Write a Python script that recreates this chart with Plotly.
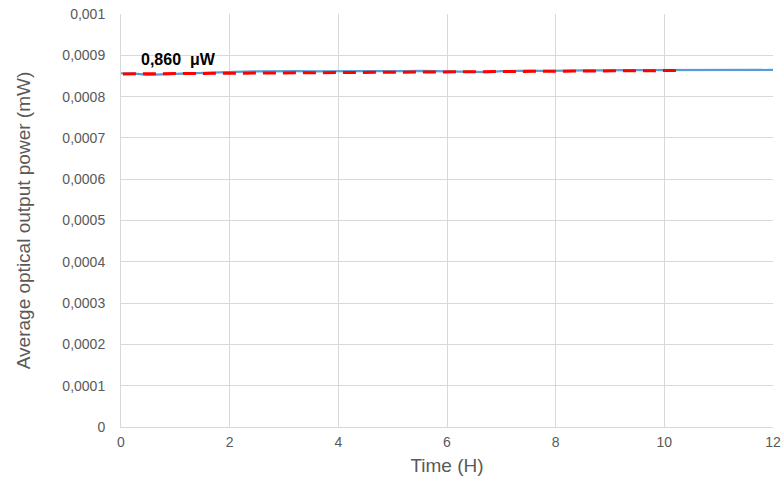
import plotly.graph_objects as go

# ---- data ----
time_h = [i * 0.25 for i in range(49)]
power_uW = [0.8565, 0.8555, 0.8525, 0.8530, 0.8550, 0.8560, 0.8575, 0.8585,
            0.8595, 0.8605, 0.8610, 0.8615, 0.8620, 0.8615, 0.8610, 0.8615,
            0.8620, 0.8625, 0.8620, 0.8615, 0.8610, 0.8615, 0.8625, 0.8620,
            0.8615, 0.8620, 0.8610, 0.8595, 0.8615, 0.8625, 0.8630, 0.8625,
            0.8620, 0.8630, 0.8635, 0.8630, 0.8635, 0.8640, 0.8640, 0.8635,
            0.8645, 0.8640, 0.8635, 0.8640, 0.8645, 0.8645, 0.8640, 0.8645,
            0.8645]
power_mW = [v * 1e-3 for v in power_uW]

trend_x = [-0.24, 10.2]
trend_mW = [0.000855, 0.0008632]

y_tickvals = [i * 0.0001 for i in range(11)]
y_ticktext = ["0", "0,0001", "0,0002", "0,0003", "0,0004", "0,0005",
              "0,0006", "0,0007", "0,0008", "0,0009", "0,001"]
x_tickvals = [0, 2, 4, 6, 8, 10, 12]

label_text = "0,860  μW"
label_x, label_y = 1.05, 0.000891

# ---- layout geometry (pixels) ----
W, H = 784, 482
ml, mr, mt, mb = 104, 11, 14, 55
plot_w = W - ml - mr
axis_left_px = 121 - ml
ext_left_px = 106 - ml
px_per_h = (plot_w - axis_left_px) / 12.0
x2_min = 12 - (plot_w - ext_left_px) / px_per_h

grey = "#595959"
grid = "#d9d9d9"
font = "Liberation Sans"

fig = go.Figure()
fig.add_trace(go.Scatter(x=time_h, y=power_mW, mode="lines",
                         line=dict(color="#5B9BD5", width=2.2),
                         xaxis="x", yaxis="y", showlegend=False))
fig.add_trace(go.Scatter(x=trend_x, y=trend_mW, mode="lines",
                         line=dict(color="#FF0000", width=3, dash="13px,7px"),
                         xaxis="x2", yaxis="y", showlegend=False))

fig.add_annotation(x=label_x, y=label_y, xref="x", yref="y", text="<b>" + label_text + "</b>",
                   showarrow=False, font=dict(family=font, size=16, color="#000000"))

fig.update_layout(
    width=W, height=H,
    margin=dict(l=ml, r=mr, t=mt, b=mb, autoexpand=False),
    plot_bgcolor="white", paper_bgcolor="white",
    font=dict(family=font, color=grey),
    xaxis=dict(domain=[axis_left_px / plot_w, 1], range=[0, 12],
               tickvals=x_tickvals, showgrid=True, gridcolor=grid, gridwidth=1,
               showline=True, linecolor=grid, linewidth=1, zeroline=False,
               ticks="", tickfont=dict(size=14, color=grey), automargin=False,
               ticklabelstandoff=2, ticklabeloverflow="allow",
               title=dict(text="Time (H)", font=dict(size=19, color=grey), standoff=9)),
    xaxis2=dict(domain=[ext_left_px / plot_w, 1], range=[x2_min, 12],
                overlaying="x", visible=False, anchor="y", automargin=False),
    yaxis=dict(range=[0, 0.001], tickvals=y_tickvals, ticktext=y_ticktext,
               showgrid=True, gridcolor=grid, gridwidth=1,
               showline=True, linecolor=grid, linewidth=1, zeroline=False,
               ticks="", tickfont=dict(size=14, color=grey), ticklabelstandoff=12,
               anchor="x", automargin=False, ticklabeloverflow="allow",
               title=dict(text="Average optical output power (mW)",
                          font=dict(size=19, color=grey), standoff=26)),
)

fig.write_html("out.html", config={"displayModeBar": False},
               post_script="document.body.style.margin='0';document.body.style.overflow='hidden';")
